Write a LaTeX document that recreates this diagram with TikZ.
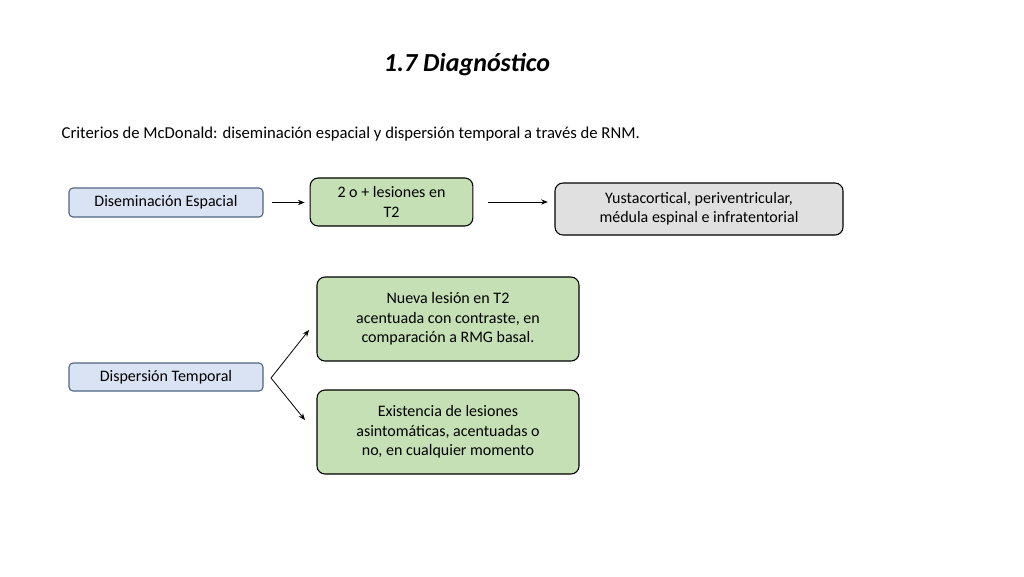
\documentclass[tikz,border=0pt]{standalone}
\usepackage{fontspec}
\setmainfont{Carlito}
\usetikzlibrary{arrows.meta}

\tikzset{
    bluebox/.style={draw={rgb,255:red,80;green,100;blue,130}, fill={rgb,255:red,218;green,227;blue,243}, rounded corners=3pt, line width=0.8pt, font=\fontsize{12}{14}\selectfont, align=center},
    greenbox/.style={draw=black, fill={rgb,255:red,197;green,224;blue,180}, rounded corners=6pt, line width=0.8pt, font=\fontsize{12}{14.5}\selectfont, align=center},
    greybox/.style={draw=black, fill={rgb,255:red,224;green,224;blue,224}, rounded corners=6pt, line width=0.8pt, font=\fontsize{12}{14.5}\selectfont, align=center},
    arr/.style={-{Stealth[length=5pt,width=4pt]}, line width=0.6pt}
}

\begin{document}
\begin{tikzpicture}[x=0.75pt,y=0.75pt,yscale=-1,xscale=1]
    \useasboundingbox (0,0) rectangle (1024,576);

    % Title
    \node (title) at (467,65) {\fontsize{19.5}{22}\selectfont\bfseries\itshape 1.7 Diagnóstico};
    % Subtitle
    \node [anchor=west] (sub) at (57,134) {\fontsize{12.5}{15}\selectfont Criterios de McDonald: diseminación espacial y dispersión temporal a través de RNM.};

    % Boxes
    \node [bluebox, minimum width=145.5pt, minimum height=21.75pt] (de) at (166,202.5) {Diseminación Espacial};
    \node [greenbox, minimum width=122pt, minimum height=36pt] (les) at (391.5,202) {2 o + lesiones en\\T2};
    \node [greybox, minimum width=216pt, minimum height=39pt] (yus) at (699,209) {Yustacortical, periventricular,\\médula espinal e infratentorial};
    \node [bluebox, minimum width=145.5pt, minimum height=21pt] (dt) at (166,377) {Dispersión Temporal};
    \node [greenbox, minimum width=196.5pt, minimum height=63pt] (nue) at (448,319) {Nueva lesión en T2\\acentuada con contraste, en\\comparación a RMG basal.};
    \node [greenbox, minimum width=196.5pt, minimum height=63pt] (exi) at (448,432) {Existencia de lesiones\\asintomáticas, acentuadas o\\no, en cualquier momento};

    % Connectors
    \draw [arr, shorten <=6pt, shorten >=3.75pt] (de.east) -- (les.west |- de.east);
    \draw [arr, shorten <=11pt, shorten >=5pt] (les.east) -- (yus.west |- les.east);
    \coordinate (fork) at (271,378);
    \coordinate (up) at (309,330);
    \coordinate (down) at (305,420);
    \draw [arr] (fork) -- (up);
    \draw [arr] (fork) -- (down);
\end{tikzpicture}
\end{document}
